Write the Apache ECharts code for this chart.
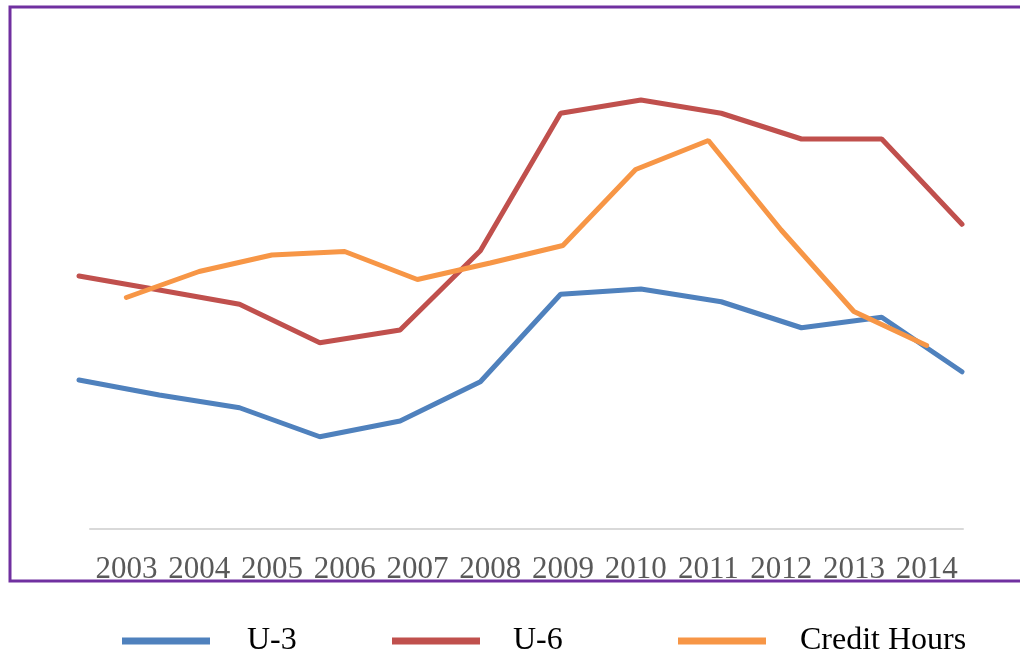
<!DOCTYPE html>
<html lang="en">
<head>
    <meta charset="UTF-8">
    <title>U-3, U-6 and Credit Hours</title>
    <style>
        html, body { margin: 0; padding: 0; background: #fff; }
        #chart { width: 1020px; height: 654px; }
    </style>
</head>
<body>
    <div id="chart"></div>
    <script src="https://cdn.jsdelivr.net/npm/echarts@6/dist/echarts.min.js"></script>
    <script type="text/javascript">
        // data
        var years = ['2003', '2004', '2005', '2006', '2007', '2008', '2009', '2010', '2011', '2012', '2013', '2014'];
        var u3 = [5.96, 5.36, 4.85, 3.69, 4.32, 5.89, 9.39, 9.60, 9.09, 8.05, 8.47, 6.29];
        var u6 = [10.12, 9.56, 8.99, 7.45, 7.96, 11.13, 16.63, 17.16, 16.63, 15.60, 15.60, 12.19];
        var creditHours = [463, 515, 548, 555, 499, 532, 567, 719, 777, 598, 435, 367];

        var serif = '"Liberation Serif", "Times New Roman", serif';

        var myChart = echarts.init(document.getElementById('chart'));
        myChart.setOption({
            animation: false,
            // purple frame round the plot
            graphic: [{
                type: 'rect',
                shape: { x: 10, y: 7, width: 1030, height: 574 },
                style: { fill: 'none', stroke: '#7030A0', lineWidth: 3 },
                silent: true
            }],
            grid: [
                { left: 90, right: 57, top: 29, bottom: 125 },
                { left: 79, right: 58, top: 29, bottom: 125 }
            ],
            xAxis: [
                {
                    gridIndex: 0,
                    type: 'category',
                    data: years,
                    boundaryGap: true,
                    axisLine: { lineStyle: { color: '#d9d9d9', width: 2 } },
                    axisTick: { show: false },
                    axisLabel: {
                        interval: 0,
                        margin: 25,
                        color: '#595959',
                        fontFamily: serif,
                        fontSize: 31
                    },
                    splitLine: { show: false }
                },
                {
                    gridIndex: 1,
                    type: 'category',
                    data: years,
                    boundaryGap: false,
                    show: false
                }
            ],
            yAxis: [
                { gridIndex: 0, type: 'value', min: 0, max: 1000, show: false },
                { gridIndex: 1, type: 'value', min: 0, max: 20, show: false }
            ],
            // three legends so each item sits where the original has it
            legend: [
                {
                    data: ['U-3'], left: 117, top: 620, icon: 'rect',
                    itemWidth: 88, itemHeight: 7,
                    textStyle: { fontFamily: serif, fontSize: 32, color: '#000', padding: [0, 0, 0, 32] }
                },
                {
                    data: ['U-6'], left: 387, top: 620, icon: 'rect',
                    itemWidth: 88, itemHeight: 7,
                    textStyle: { fontFamily: serif, fontSize: 32, color: '#000', padding: [0, 0, 0, 28] }
                },
                {
                    data: ['Credit Hours'], left: 673, top: 620, icon: 'rect',
                    itemWidth: 88, itemHeight: 7,
                    textStyle: { fontFamily: serif, fontSize: 32, color: '#000', padding: [0, 0, 0, 29] }
                }
            ],
            series: [
                {
                    name: 'U-3',
                    type: 'line',
                    xAxisIndex: 1,
                    yAxisIndex: 1,
                    data: u3,
                    symbol: 'none',
                    itemStyle: { color: '#4F81BD' },
                    lineStyle: { color: '#4F81BD', width: 5, cap: 'round' }
                },
                {
                    name: 'U-6',
                    type: 'line',
                    xAxisIndex: 1,
                    yAxisIndex: 1,
                    data: u6,
                    symbol: 'none',
                    itemStyle: { color: '#C0504D' },
                    lineStyle: { color: '#C0504D', width: 5, cap: 'round' }
                },
                {
                    name: 'Credit Hours',
                    type: 'line',
                    xAxisIndex: 0,
                    yAxisIndex: 0,
                    data: creditHours,
                    symbol: 'none',
                    itemStyle: { color: '#F79646' },
                    lineStyle: { color: '#F79646', width: 5, cap: 'round' }
                }
            ]
        });
    </script>
</body>
</html>
